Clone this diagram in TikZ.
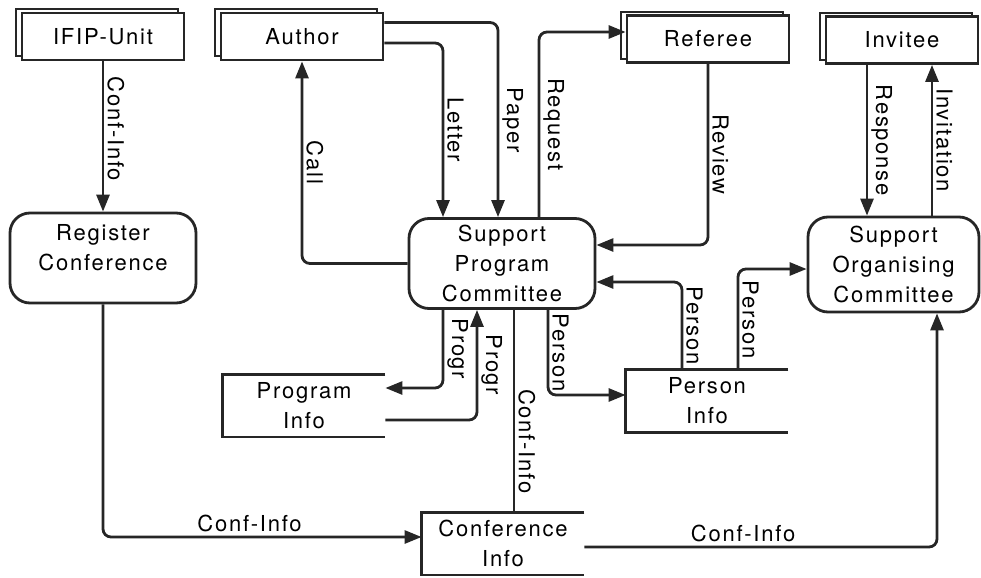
\documentclass[tikz,border=0pt]{standalone}
\usepackage{fontspec}
\setmainfont{TeX Gyre Heros}[LetterSpace=8]
\usepackage{tikz}
\usetikzlibrary{arrows.meta,calc,shadows}
\definecolor{ink}{gray}{0.15}
\tikzset{>={Triangle[length=8.5pt,width=6.5pt]},
         every node/.style={font=\fontsize{11}{15}\selectfont},
         flow/.style={draw=ink,line width=1.4pt,rounded corners=4pt,->},
         wall/.style={draw=ink,line width=1.4pt}}
\tikzstyle{entity}=[draw=ink,line width=1.4pt,fill=white,inner sep=0pt,
   minimum width=81pt,minimum height=23.5pt,
   general shadow={shadow xshift=-3pt,shadow yshift=2pt,draw=ink,fill=white,line width=1pt}]
\tikzstyle{process}=[draw=ink,line width=1.4pt,rounded corners=10pt,align=center,
   inner sep=0pt,minimum width=93pt,minimum height=45pt]
\tikzstyle{store}=[align=center,inner sep=0pt,minimum width=81pt,minimum height=31pt]
\tikzstyle{labeled}=[rotate=-90,anchor=south,inner sep=1.5pt]
\tikzstyle{flat}=[above,inner sep=2pt]

\begin{document}
\begin{tikzpicture}[x=0.5pt,y=-0.5pt]
   \useasboundingbox (0,0) rectangle (981,578);
   % external entities
   \node[entity] (ifip)    at (103,36.5) {IFIP-Unit};
   \node[entity] (author)  at (302,36.5) {Author};
   \node[entity] (referee) at (708,39)   {Referee};
   \node[entity,minimum width=76pt] (invitee) at (902,40) {Invitee};
   % processes
   \node[process,text depth=11pt] (register) at (103,258) {Register\\Conference};
   \node[process,text depth=-5pt] (spc) at (502,263.5) {Support\\Program\\Committee};
   \node[process,text depth=-5pt,minimum width=85.5pt,minimum height=47.5pt] (soc)
     at (893.5,264.5) {Support\\Organising\\Committee};
   % data stores
   \node[store] (proginfo) at (304,405.5) {Program\\Info};
   \node[store] (persinfo) at (707,401)   {Person\\Info};
   \node[store] (confinfo) at (503,543.5) {Conference\\Info};
   \foreach \s in {proginfo,persinfo,confinfo}
     \draw[wall] (\s.north east) -- (\s.north west) -- (\s.south west) -- (\s.south east);
   % flows
   \draw[flow] (ifip.south) -- (register.north) node[labeled,pos=0.45] {Conf-Info};
   \draw[flow] (spc.west) -| (author.south) node[labeled,pos=0.75] {Call};
   \draw[flow] ($(author.east)+(0,6.5)$) -| ($(spc.north)+(-59,0)$)
     node[labeled,pos=0.75] {Letter};
   \draw[flow] ($(author.east)+(0,-14)$) -| ($(spc.north)+(-4,0)$)
     node[labeled,pos=0.75] {Paper};
   \draw[flow] ($(spc.north)+(37,0)$) |- ($(referee.west)+(0,-7)$)
     node[labeled,pos=0.25] {Request};
   \draw[flow] (referee.south) |- ($(spc.east)+(0,-18.5)$)
     node[labeled,pos=0.25] {Review};
   \draw[flow] ($(invitee.south)+(-35,0)$) coordinate (resp) -- (resp |- soc.north)
     node[labeled,midway] {Response};
   \draw[flow] ($(soc.north)+(38.5,0)$) coordinate (invit) -- (invit |- invitee.south)
     node[labeled,midway] {Invitation};
   \draw[flow] ($(persinfo.north)+(-25,0)$) |- ($(spc.east)+(0,18.5)$)
     node[labeled,pos=0.25] {Person};
   \draw[flow] ($(persinfo.north)+(31,0)$) |- ($(soc.west)+(0,4.5)$)
     node[labeled,pos=0.25] {Person};
   \draw[flow] ($(spc.south)+(46,0)$) |- ($(persinfo.west)+(0,-6)$)
     node[labeled,pos=0.25] {Person};
   \draw[flow] ($(spc.south)+(-59,0)$) |- ($(proginfo.east)+(0,-17.5)$)
     node[labeled,pos=0.25] {Progr};
   \draw[flow] ($(proginfo.east)+(0,14.5)$) -| ($(spc.south)+(-25,0)$)
     node[labeled,pos=0.75] {Progr};
   \draw[flow,-] ($(spc.south)+(12,0)$) coordinate (cinf) -- (cinf |- confinfo.north)
     node[labeled,pos=0.65] {Conf-Info};
   \draw[flow] (register.south) |- ($(confinfo.west)+(0,-6.5)$)
     node[flat,pos=0.73] {Conf-Info};
   \draw[flow] ($(confinfo.east)+(0,3.5)$) -| ($(soc.south)+(43.5,0)$)
     node[flat,pos=0.225] {Conf-Info};
\end{tikzpicture}
\end{document}
